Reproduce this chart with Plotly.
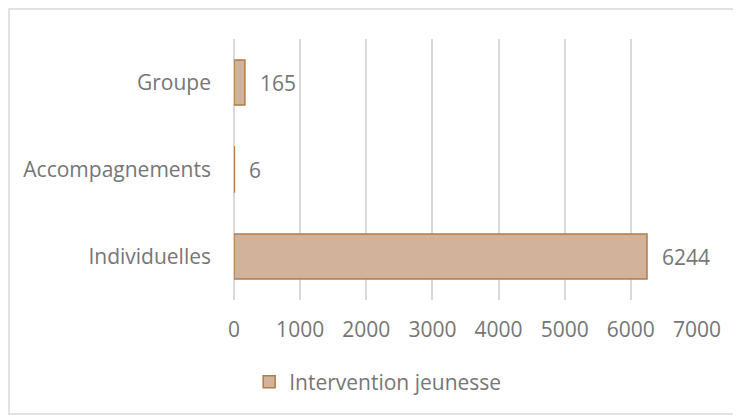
import plotly.graph_objects as go

# data
categories = ["Individuelles", "Accompagnements", "Groupe"]
values = [6244, 6, 165]
series_name = "Intervention jeunesse"
x_ticks = [0, 1000, 2000, 3000, 4000, 5000, 6000, 7000]

TEXT = "#767676"
GRID = "#d9d9d9"
FONT = "Open Sans"
FS = 21

W, H = 733, 407  # page body adds an 8px offset
ML, MR, MT, MB = 226, 44, 31, 115
PW, PH = W - ML - MR, H - MT - MB

fig = go.Figure()
fig.add_trace(
    go.Bar(
        x=values,
        y=categories,
        orientation="h",
        name=series_name,
        width=0.52,
        marker=dict(color="#d3b29b", line=dict(color="#b57b47", width=1.5)),
        showlegend=True,
    )
)

# value labels sitting to the right of each bar
for cat, val in zip(categories, values):
    fig.add_annotation(
        x=val,
        y=cat,
        text=str(val),
        showarrow=False,
        xanchor="left",
        xshift=13,
        font=dict(size=FS, color=TEXT, family=FONT),
    )

# chart border
fig.add_shape(
    type="rect",
    xref="paper",
    yref="paper",
    x0=-(ML - 1) / PW,
    x1=1 + (MR - 1) / PW,
    y0=-(MB - 1) / PH,
    y1=1 + (MT - 1) / PH,
    line=dict(color=GRID, width=1.5),
    layer="below",
)

fig.update_layout(
    width=W,
    height=H,
    paper_bgcolor="white",
    plot_bgcolor="white",
    font=dict(family=FONT, color=TEXT, size=FS),
    margin=dict(l=ML, r=MR, t=MT, b=MB),
    xaxis=dict(
        range=[0, 7000],
        tickvals=x_ticks,
        showgrid=True,
        gridcolor=GRID,
        gridwidth=1.5,
        zeroline=True,
        zerolinecolor=GRID,
        zerolinewidth=1.5,
        ticks="",
        ticklabelstandoff=15,
        tickfont=dict(size=FS, color=TEXT),
        fixedrange=True,
    ),
    yaxis=dict(
        showgrid=False,
        ticks="",
        ticklabelstandoff=22,
        tickfont=dict(size=FS, color=TEXT),
        fixedrange=True,
    ),
    legend=dict(
        orientation="h",
        xref="container",
        yref="container",
        x=0.329,
        xanchor="left",
        y=0.081,
        yanchor="middle",
        font=dict(size=FS, color=TEXT),
        itemwidth=30,
    ),
)

fig.write_html("out.html")
